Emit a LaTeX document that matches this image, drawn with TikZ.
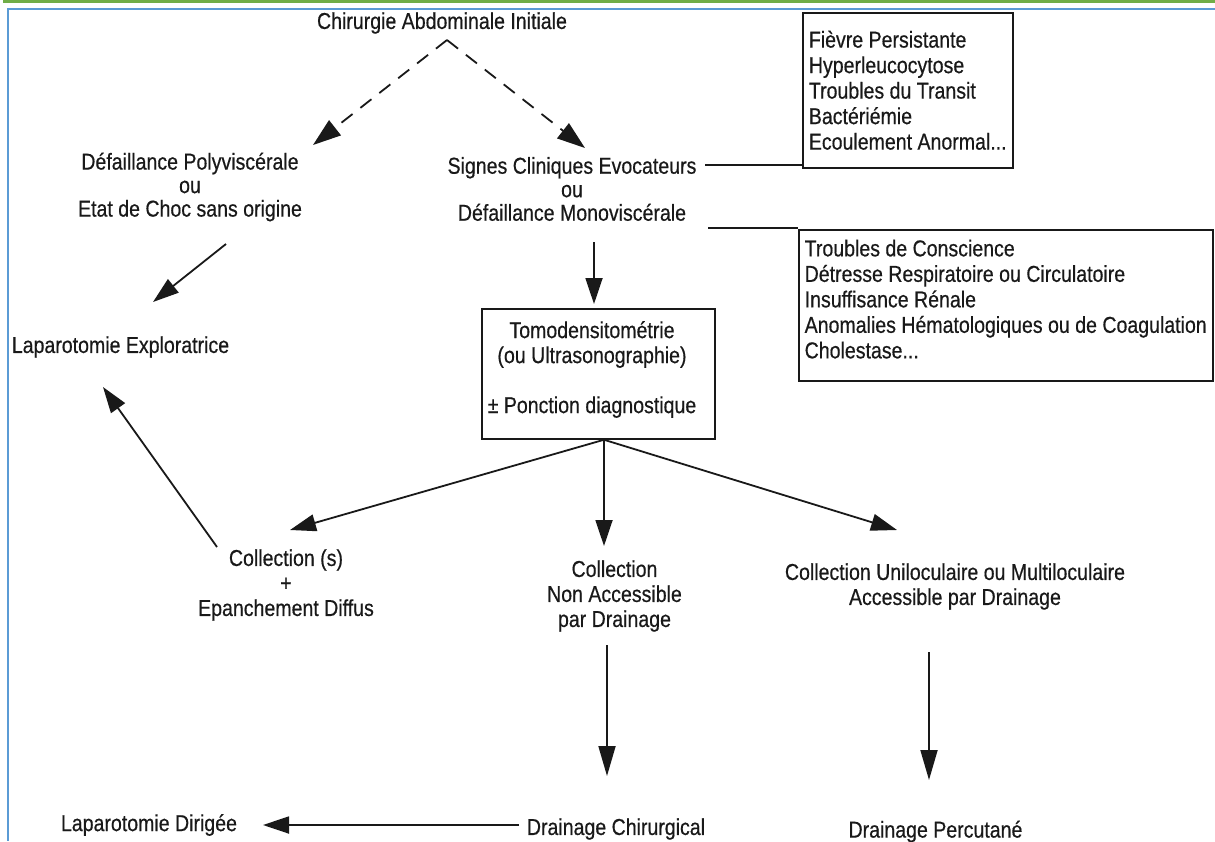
\documentclass[tikz,border=0pt]{standalone}
\usepackage{fontspec}
\setmainfont{Liberation Sans}[FakeStretch=0.85, FakeBold=0.5]
\usetikzlibrary{arrows.meta,calc}
\definecolor{framegreen}{RGB}{112,173,71}
\definecolor{frameblue}{RGB}{91,155,213}
\definecolor{ink}{RGB}{25,25,25}
\begin{document}
\begin{tikzpicture}[x=1pt,y=-1pt,
  every node/.style={font=\fontsize{23}{25}\selectfont, inner sep=3.3pt, text=ink},
  ctr/.style={align=center},
  ctrtight/.style={align=center, font=\fontsize{23}{23.5}\selectfont},
  infobox/.style={draw=ink, line width=1.5pt, align=left, inner xsep=5pt, anchor=north west,
                  font=\fontsize{23}{25.5}\selectfont},
  arr/.style={draw=ink, line width=1.8pt, -{Triangle[length=26pt,width=17pt]}},
  longarr/.style={draw=ink, line width=1.8pt, -{Triangle[length=30pt,width=17pt]}},
  dasharr/.style={draw=ink, line width=1.8pt, -{Triangle[length=28pt,width=19pt]}, dash pattern=on 14pt off 10pt},
  thinline/.style={draw=ink, line width=1.3pt}]
\useasboundingbox (0,0) rectangle (1215,841);
% frame
\draw[framegreen, line width=3pt] (3,1.5) -- (1215,1.5);
\draw[frameblue, line width=2pt] (7.3,9) -- (1215,9);
\draw[frameblue, line width=2pt] (8.3,8) -- (8.3,841);

% nodes
\node (title) at (442,23) {Chirurgie Abdominale Initiale};
\node[ctrtight] (poly) at (190,187) {Défaillance Polyviscérale\\ou\\Etat de Choc sans origine};
\node[ctrtight] (signes) at (572,189) {Signes Cliniques Evocateurs\\ou\\Défaillance Monoviscérale};
\node[infobox, minimum width=210pt, minimum height=155pt] (box1) at (802,12)
  {Fièvre Persistante\\Hyperleucocytose\\Troubles du Transit\\Bactériémie\\Ecoulement Anormal...};
\node[infobox, minimum width=414pt, minimum height=151pt] (box2) at (798,229)
  {Troubles de Conscience\\Détresse Respiratoire ou Circulatoire\\Insuffisance Rénale\\Anomalies Hématologiques ou de Coagulation\\Cholestase...\\[-13pt]\mbox{}};
\node (lapexp) at (120.5,347) {Laparotomie Exploratrice};
\node[draw=ink, line width=1.5pt, minimum width=233pt, minimum height=130pt] (tomo) at (598.5,374) {};
\node[ctr] (tomotxt) at (592,369.5) {Tomodensitométrie\\(ou Ultrasonographie)\\[25pt]± Ponction diagnostique};
\node[ctr] (coll) at (286,585) {Collection (s)\\+\\Epanchement Diffus};
\node[ctr] (na) at (614.5,596) {Collection\\Non Accessible\\par Drainage};
\node[ctr] (uni) at (955,586.5) {Collection Uniloculaire ou Multiloculaire\\Accessible par Drainage};
\node (lapdir) at (149,825) {Laparotomie Dirigée};
\node (dchir) at (616,829) {Drainage Chirurgical};
\node (dperc) at (935.5,831.5) {Drainage Percutané};

% connectors
\coordinate (apex) at ($(title.center)+(5,17)$);
\draw[dasharr] (apex) -- ($(poly.center)+(123,-42)$);
\draw[dasharr] (apex) -- ($(signes.center)+(13,-41)$);
\draw[arr] ($(poly.center)+(36,57)$) -- ($(lapexp.center)+(32.5,-45)$);
\draw[arr] ($(tomo.center)+(-4.5,-132)$) -- ($(tomo.center)+(-4.5,-70)$);
\draw[arr] ($(tomo.south)+(5.5,0)$) -- ($(coll.center)+(4,-55)$);
\draw[arr] ($(tomo.south)+(5.5,0)$) -- ($(na.center)+(-10.5,-50)$);
\draw[arr] ($(tomo.south)+(5.5,0)$) -- ($(uni.center)+(-58,-56.5)$);
\draw[arr] ($(coll.center)+(-69,-38)$) -- ($(lapexp.center)+(-17.5,40)$);
\draw[longarr] ($(na.center)+(-7.5,49)$) -- ($(dchir.center)+(-9,-53)$);
\draw[longarr] ($(uni.center)+(-26,65.5)$) -- ($(dperc.center)+(-6.5,-51.5)$);
\draw[arr] ($(dchir.center)+(-97,-4)$) -- ($(lapdir.center)+(114,0)$);
\coordinate (sg1) at ($(signes.center)+(133,-24)$);
\draw[thinline] (sg1) -- (sg1 -| box1.west);
\coordinate (sg2) at ($(signes.center)+(136,39)$);
\draw[thinline] (sg2) -- (sg2 -| box2.west);
\end{tikzpicture}
\end{document}
